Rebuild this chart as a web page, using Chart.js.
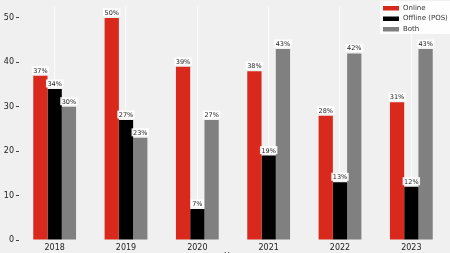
<!DOCTYPE html>
<html>
<head>
<meta charset="utf-8">
<script src="https://cdn.jsdelivr.net/npm/chart.js@4/dist/chart.umd.min.js"></script>
<style>
html,body{margin:0;padding:0;overflow:hidden;background:#f0f0f0;}
#wrap{width:450px;height:262px;position:relative;}
</style>
</head>
<body>
<div id="wrap"><canvas id="c" width="450" height="262"></canvas></div>
<script>
const categories = ['2018','2019','2020','2021','2022','2023'];
const onlineValues = [37, 50, 39, 38, 28, 31];
const offlineValues = [34, 27, 7, 19, 13, 12];
const bothValues = [30, 23, 27, 43, 42, 43];
const seriesLabels = ['Online', 'Offline (POS)', 'Both'];
const yTicks = [0, 10, 20, 30, 40, 50];
const xTitle = 'Year';

const colors = ['#d8291c', '#000000', '#808080'];

const bgPlugin = {
  id: 'bg',
  beforeDraw(chart) {
    const ctx = chart.ctx;
    ctx.save();
    ctx.fillStyle = '#f0f0f0';
    ctx.fillRect(0, 0, chart.width, chart.height);
    ctx.restore();
  }
};

const legendPlugin = {
  id: 'customLegend',
  afterDatasetsDraw(chart) {
    const ctx = chart.ctx;
    ctx.save();
    const bx = 380, by = 1, bw = 70, bh = 33;
    ctx.fillStyle = 'rgba(255,255,255,0.92)';
    ctx.fillRect(bx, by, bw, bh);
    ctx.font = '7px "DejaVu Sans"';
    ctx.textBaseline = 'middle';
    ctx.textAlign = 'left';
    chart.data.datasets.forEach((ds, i) => {
      const y = by + 7 + i * 10.5;
      ctx.fillStyle = ds.backgroundColor;
      ctx.fillRect(bx + 3, y - 2, 16, 4.5);
      ctx.fillStyle = '#333';
      ctx.fillText(ds.label, bx + 23, y);
    });
    ctx.restore();
  }
};

const labelPlugin = {
  id: 'barLabels',
  afterDraw(chart) {
    const ctx = chart.ctx;
    ctx.save();
    ctx.font = '6.5px "DejaVu Sans"';
    ctx.textAlign = 'center';
    ctx.textBaseline = 'bottom';
    chart.data.datasets.forEach((ds, di) => {
      const meta = chart.getDatasetMeta(di);
      meta.data.forEach((bar, i) => {
        const txt = ds.data[i] + '%';
        const w = ctx.measureText(txt).width;
        const x = bar.x, y = bar.y - 1.5;
        ctx.fillStyle = 'rgba(255,255,255,0.9)';
        ctx.fillRect(x - w / 2 - 1.5, y - 8, w + 3, 8);
        ctx.fillStyle = '#222';
        ctx.fillText(txt, x, y);
      });
    });
    ctx.restore();
  }
};

new Chart(document.getElementById('c'), {
  type: 'bar',
  data: {
    labels: categories,
    datasets: [
      { label: seriesLabels[0], data: onlineValues, backgroundColor: colors[0] },
      { label: seriesLabels[1], data: offlineValues, backgroundColor: colors[1] },
      { label: seriesLabels[2], data: bothValues, backgroundColor: colors[2] }
    ]
  },
  options: {
    responsive: false,
    animation: false,
    layout: { padding: { top: 0, right: 3, left: 0, bottom: 0 } },
    datasets: { bar: { categoryPercentage: 0.6, barPercentage: 1.0, borderWidth: 0 } },
    plugins: { legend: { display: false }, tooltip: { enabled: false } },
    scales: {
      x: {
        offset: true,
        grid: { offset: false, color: '#fafafa', lineWidth: 1.2, drawTicks: false },
        border: { display: false },
        ticks: { color: '#222', font: { family: 'DejaVu Sans', size: 8 }, padding: 3 },
        title: { display: true, text: xTitle, color: '#222', font: { family: 'DejaVu Sans', size: 8 }, padding: { top: 2, bottom: 0 } },
        afterFit(s) { s.height = 22; }
      },
      y: {
        min: 0,
        max: 52.5,
        afterBuildTicks(s) { s.ticks = yTicks.map(v => ({ value: v })); },
        grid: { drawOnChartArea: false, drawTicks: true, tickLength: 3, color: '#444' },
        border: { display: false },
        ticks: { color: '#222', font: { family: 'DejaVu Sans', size: 8 }, padding: 2 },
        afterFit(s) { s.width = 19; }
      }
    }
  },
  plugins: [bgPlugin, legendPlugin, labelPlugin]
});
</script>
</body>
</html>
